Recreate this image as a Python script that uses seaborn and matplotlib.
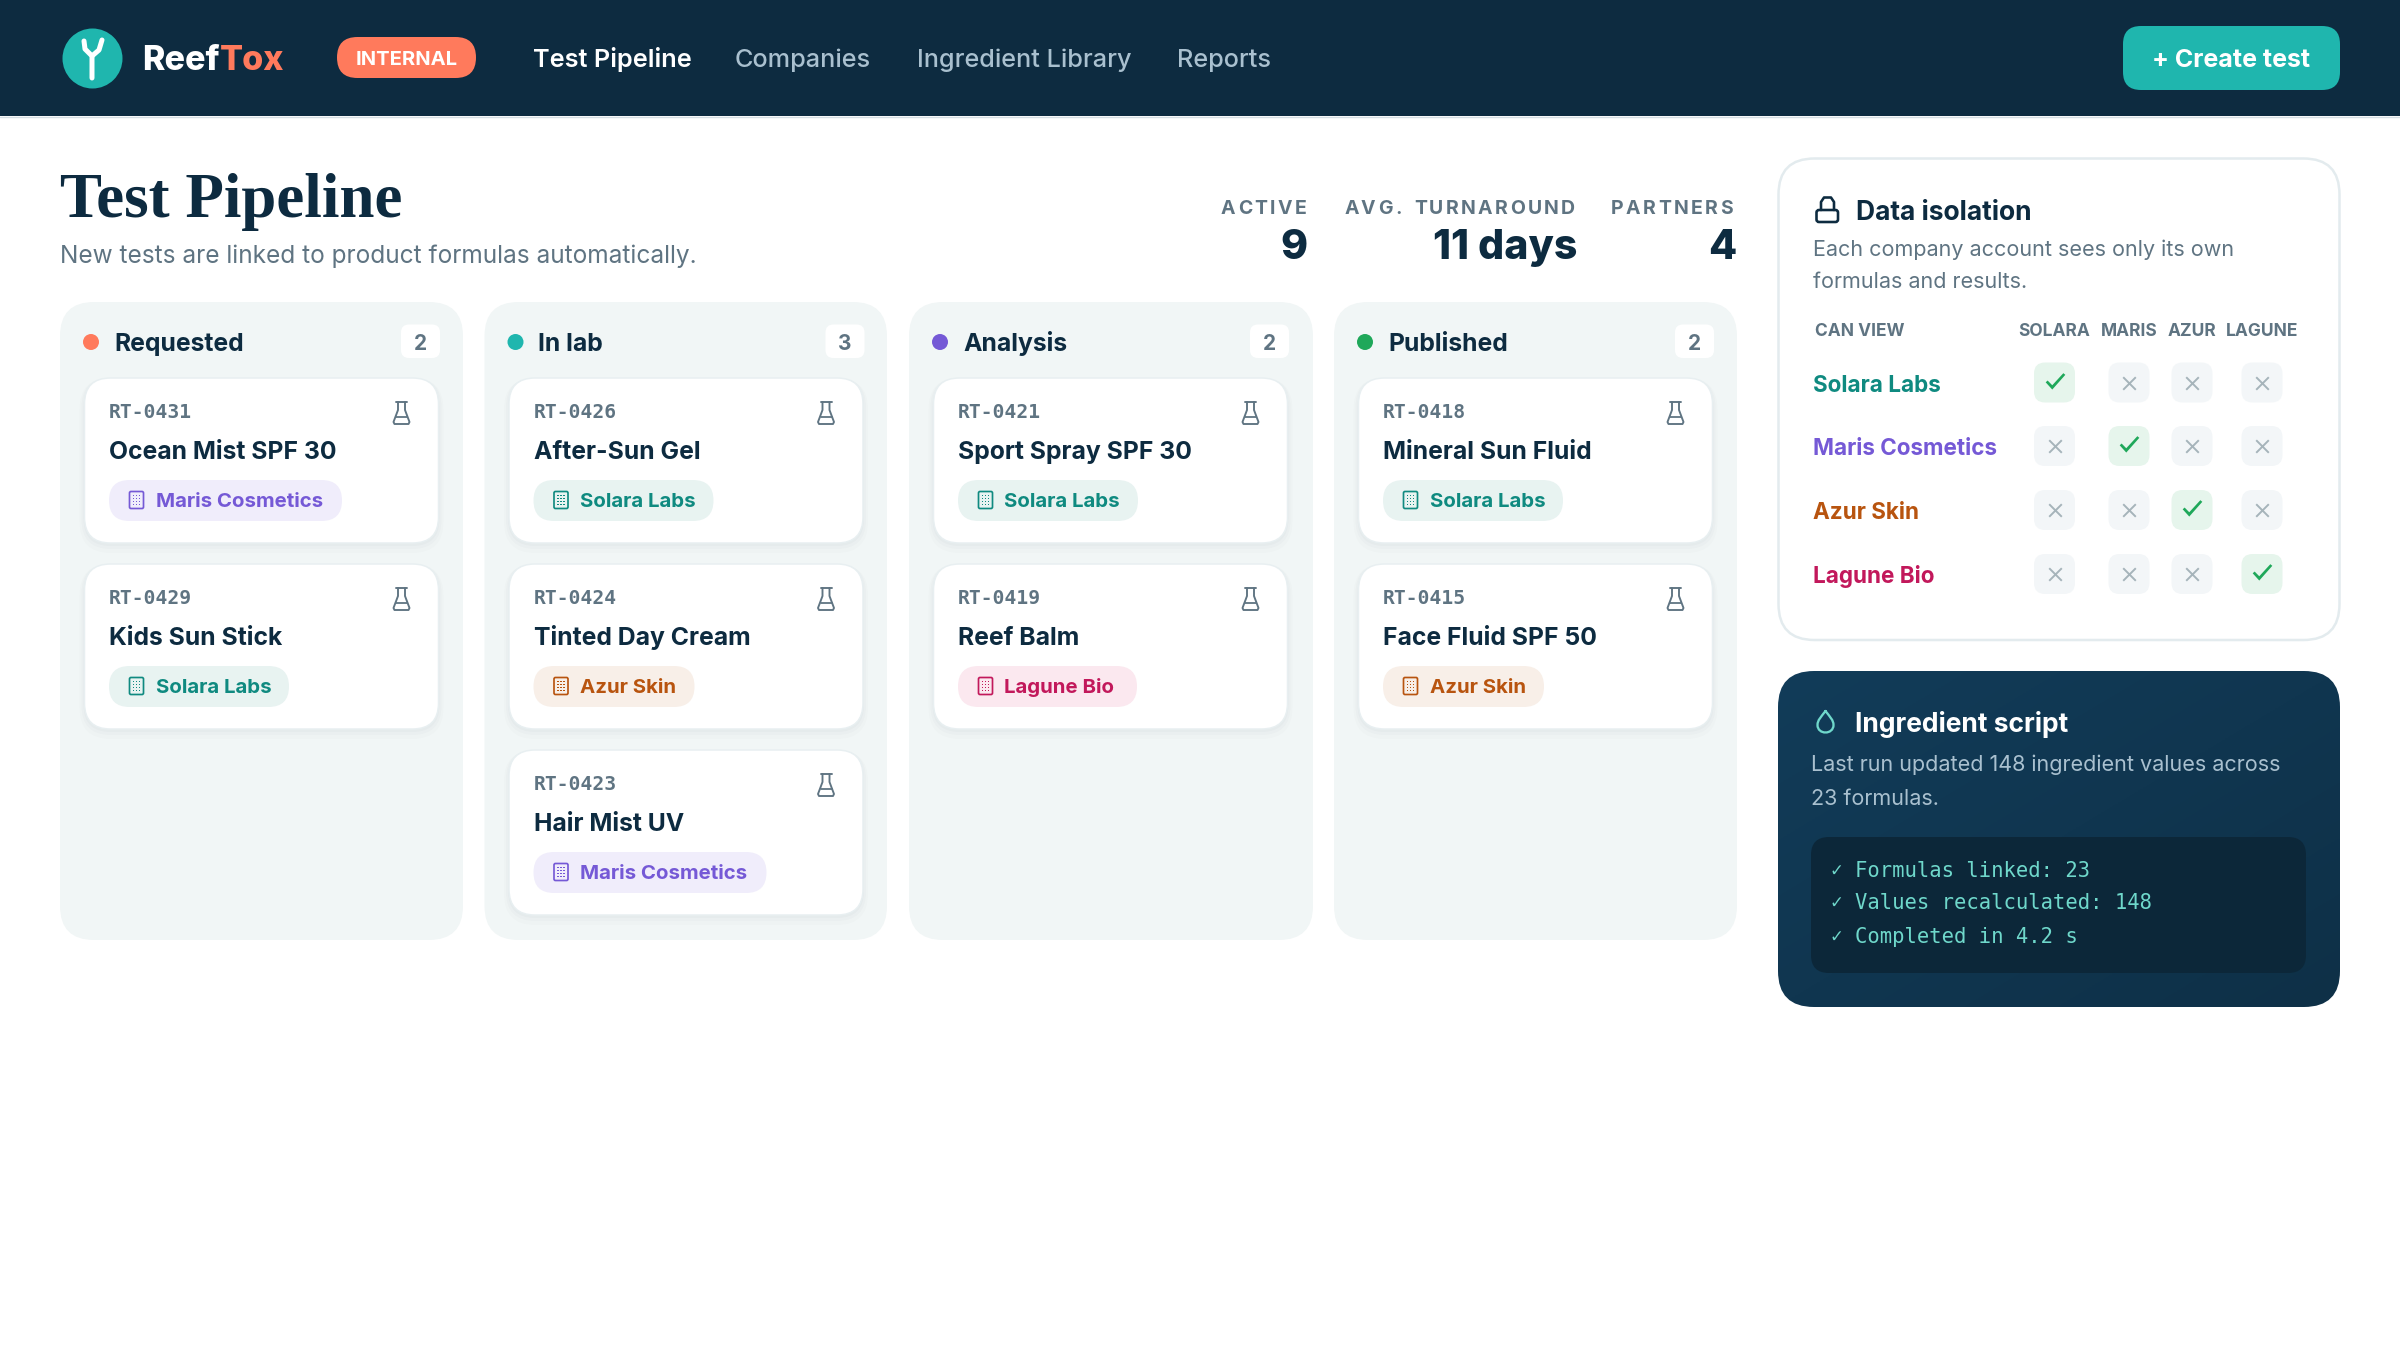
import numpy as np
import pandas as pd
import matplotlib
matplotlib.use("Agg")
import matplotlib.pyplot as plt
import seaborn as sns
from matplotlib.patches import FancyBboxPatch, PathPatch, Rectangle
from matplotlib.path import Path
from matplotlib.colors import LinearSegmentedColormap

# chart content
nav_items = ["Test Pipeline", "Companies", "Ingredient Library", "Reports"]
stat_labels = ["ACTIVE", "AVG. TURNAROUND", "PARTNERS"]
stat_values = ["9", "11 days", "4"]
stages = ["Requested", "In lab", "Analysis", "Published"]
stage_counts = [2, 3, 2, 2]
card_ids = [["RT-0431", "RT-0429"], ["RT-0426", "RT-0424", "RT-0423"],
            ["RT-0421", "RT-0419"], ["RT-0418", "RT-0415"]]
card_names = [["Ocean Mist SPF 30", "Kids Sun Stick"],
              ["After-Sun Gel", "Tinted Day Cream", "Hair Mist UV"],
              ["Sport Spray SPF 30", "Reef Balm"],
              ["Mineral Sun Fluid", "Face Fluid SPF 50"]]
card_companies = [["Maris Cosmetics", "Solara Labs"],
                  ["Solara Labs", "Azur Skin", "Maris Cosmetics"],
                  ["Solara Labs", "Lagune Bio"],
                  ["Solara Labs", "Azur Skin"]]
companies = ["Solara Labs", "Maris Cosmetics", "Azur Skin", "Lagune Bio"]
company_short = ["SOLARA", "MARIS", "AZUR", "LAGUNE"]
access = [[1, 0, 0, 0], [0, 1, 0, 0], [0, 0, 1, 0], [0, 0, 0, 1]]
script_lines = ["Formulas linked: 23", "Values recalculated: 148", "Completed in 4.2 s"]

# colours
NAVY = "#0d2b40"
GREY = "#5f7482"
NAV_GREY = "#a9c0cf"
TEAL = "#1fb6ae"
CORAL = "#ff7a5c"
MINT = "#6fd8cb"
GREEN = "#1fa85a"
stage_colors = [CORAL, TEAL, "#7559d6", GREEN]
company_fg = {"Solara Labs": "#0f8a80", "Maris Cosmetics": "#7559d6",
              "Azur Skin": "#b8540f", "Lagune Bio": "#c2185b"}
company_bg = {"Solara Labs": "#e8f3f1", "Maris Cosmetics": "#f0edfb",
              "Azur Skin": "#f8efe8", "Lagune Bio": "#fbe8ef"}

# layout, in pixels
col_x = [60, 484.5, 909, 1334]
col_w = [403, 402.5, 404, 403]
card_top = [378, 564, 750]
pill_w = {"Solara Labs": 180, "Maris Cosmetics": 233, "Azur Skin": 161, "Lagune Bio": 179}
nav_x = [533, 735, 917, 1177]
nav_w = ["semibold", "medium", "medium", "medium"]
stat_right = [1306.5, 1575, 1732.5]
value_right = [1308, 1577, 1736]
matrix_x = [2054.5, 2129, 2192, 2262]
matrix_y = [382.5, 446, 510, 574]

sns.set_theme(style="white")
plt.rcParams["font.family"] = ["Inter", "DejaVu Sans"]

fig = plt.figure(figsize=(24, 13.5), dpi=100)
ax = fig.add_axes([0, 0, 1, 1])
ax.set_xlim(0, 2400)
ax.set_ylim(1350, 0)
ax.axis("off")
rend = fig.canvas.get_renderer()


def box(x0, y0, x1, y1, r, fc, ec="none", lw=0, z=1, alpha=None):
    p = FancyBboxPatch((x0, y0), x1 - x0, y1 - y0, boxstyle=f"round,pad=0,rounding_size={r}",
                       fc=fc, ec=ec, lw=lw * 0.72, zorder=z, alpha=alpha)
    ax.add_patch(p)
    return p


def label(x, y, s, size, color=NAVY, weight="normal", ha="left", family=None, z=5):
    # y is the middle of the capitals
    base = y + 0.36 * size * 100 / 72
    kw = {"family": family} if family else {}
    return ax.text(x, base, s, fontsize=size, color=color, fontweight=weight, ha=ha,
                   va="baseline", zorder=z, **kw)


def spaced(x_right, y, s, size, color, weight, gap):
    # letter spaced, right aligned
    widths = []
    for ch in s:
        t = label(0, 0, ch if ch != " " else "n", size, color, weight)
        widths.append(t.get_window_extent(rend).width * (0.62 if ch == " " else 1))
        t.remove()
    x = x_right - sum(widths) - gap * (len(s) - 1)
    for ch, w in zip(s, widths):
        if ch != " ":
            label(x, y, ch, size, color, weight)
        x += w + gap


def stroke(verts, color, lw, codes=None, z=6, fc="none"):
    ax.add_patch(PathPatch(Path(verts, codes), fc=fc, ec=color, lw=lw * 0.72, zorder=z,
                           capstyle="round", joinstyle="round"))


def flask(cx, cy, color=GREY):
    stroke([(cx - 5.5, cy - 11), (cx + 5.5, cy - 11)], color, 1.9)
    stroke([(cx - 3.5, cy - 11), (cx - 3.5, cy - 3), (cx - 8, cy + 9), (cx - 7, cy + 11),
            (cx + 7, cy + 11), (cx + 8, cy + 9), (cx + 3.5, cy - 3), (cx + 3.5, cy - 11)], color, 1.9)
    stroke([(cx - 5.5, cy + 4), (cx + 5.5, cy + 4)], color, 1.8)


def building(cx, cy, color):
    box(cx - 7, cy - 8.5, cx + 7, cy + 8.5, 1.5, "none", color, 1.7, z=6)
    for dx in (-4, -1, 2):
        for dy in (-5.5, -2.5, 0.5, 3.5):
            ax.add_patch(Rectangle((cx + dx, cy + dy), 1.8, 1.6, fc=color, ec="none", zorder=6))


# header
ax.add_patch(Rectangle((0, 0), 2400, 116, fc=NAVY, ec="none", zorder=1))
ax.plot([0, 2400], [116.5, 116.5], color="#d5dee3", lw=1, zorder=1)
sns.scatterplot(x=[92], y=[58], s=(60 * 0.72) ** 2, color=TEAL, linewidth=0, ax=ax, zorder=3, legend=False)
stroke([(92, 78), (92, 56), (85, 49), (84, 41)], "white", 5)
stroke([(92, 56), (99, 50), (102, 40)], "white", 5)
reef = label(142, 58, "Reef", 24.5, "white", 800)
label(reef.get_window_extent(rend).x1, 58, "Tox", 24.5, CORAL, 800)
box(337, 37, 476, 78, 20.5, CORAL, z=3)
label(406.5, 58, "INTERNAL", 14.5, "white", "bold", ha="center")
for x, s, w, c in zip(nav_x, nav_items, nav_w, ["white"] + [NAV_GREY] * 3):
    label(x, 58, s, 18.2, c, w)
box(2123, 26, 2340, 90, 18, TEAL, z=3)
label(2231.5, 58, "+ Create test", 18, "white", "bold", ha="center")

# page heading
label(60, 194, "Test Pipeline", 45.4, NAVY, "bold", family="Liberation Serif")
label(60, 254, "New tests are linked to product formulas automatically.", 17.6, GREY)
for i, lab in enumerate(stat_labels):
    spaced(stat_right[i], 207, lab, 14, GREY, "bold", 2.4)
    label(value_right[i], 244, stat_values[i], 29.5, NAVY, 800, ha="right")

# kanban columns
for i, stage in enumerate(stages):
    x = col_x[i]
    box(x, 302, x + col_w[i], 940, 34, "#f1f6f6", z=1)
    label(x + 54, 342, stage, 17.8, NAVY, "bold")
    box(x + 341, 324.5, x + 380, 358, 8, "white", z=2)
    label(x + 360.5, 342, str(stage_counts[i]), 15, GREY, "bold", ha="center")
    for j, rt in enumerate(card_ids[i]):
        cx, cy = x + 24.5, card_top[j]
        company = card_companies[i][j]
        for grow, shift, al in [(5, 5, 0.012), (3, 3, 0.015), (1, 2, 0.02)]:
            box(cx - grow, cy + shift - grow, cx + 354 + grow, cy + 165 + shift + grow, 26 + grow, NAVY, z=2, alpha=al)
        box(cx, cy, cx + 354, cy + 165, 26, "white", "#e8eff1", 1.5, z=3)
        label(cx + 24.5, cy + 33, rt, 14.1, GREY, "bold", family="DejaVu Sans Mono")
        flask(cx + 317, cy + 35)
        label(cx + 24.5, cy + 72, card_names[i][j], 17.8, NAVY, "bold")
        box(cx + 24.5, cy + 102, cx + 24.5 + pill_w[company], cy + 143, 20.5, company_bg[company], z=4)
        building(cx + 52, cy + 122, company_fg[company])
        label(cx + 71, cy + 122, company, 14.7, company_fg[company], "bold")
sns.scatterplot(x=[c + 31 for c in col_x], y=[342] * 4, hue=stages, palette=stage_colors, s=(16 * 0.72) ** 2,
                linewidth=0, legend=False, ax=ax, zorder=6)

# data isolation panel
box(1778.5, 158.5, 2339.5, 640, 36, "white", "#e3ebee", 2.5, z=1)
stroke([(1821, 210), (1821, 202), (1824, 197.5), (1831, 197.5), (1834, 202), (1834, 210)], NAVY, 2.6)
box(1816.5, 210, 1838, 222, 2.5, "none", NAVY, 2.6, z=6)
label(1856, 210, "Data isolation", 19, NAVY, "bold")
label(1813, 248, "Each company account sees only its own", 15.5, GREY)
label(1813, 280, "formulas and results.", 15.5, GREY)
label(1815, 329.5, "CAN VIEW", 12.5, GREY, "bold")
for x, s in zip(matrix_x, company_short):
    label(x, 329.5, s, 12.5, GREY, "bold", ha="center")
for y, s in zip(matrix_y, companies):
    label(1813, y + 1, s, 16.2, company_fg[s], "bold")

rows = []
for r, row in enumerate(access):
    for c, v in enumerate(row):
        rows.append({"x": matrix_x[c], "y": matrix_y[r], "ok": v})
        box(matrix_x[c] - 20.5, matrix_y[r] - 20, matrix_x[c] + 20.5, matrix_y[r] + 20, 11,
            "#e6f5ec" if v else "#f3f6f8", z=2)
cells = pd.DataFrame(rows)
tick = Path([(-1, 0.02), (-0.33, -0.72), (1, 0.78), (0.8, 0.95), (-0.33, -0.28), (-0.8, 0.2), (-1, 0.02)], closed=True)
sns.scatterplot(x=cells[cells.ok == 1].x, y=cells[cells.ok == 1].y - 1, marker=tick, s=200, color=GREEN, linewidth=0,
                legend=False, ax=ax, zorder=4)
sns.scatterplot(data=cells[cells.ok == 0], x="x", y="y", marker="x", s=82, color="#a6b4ba", linewidth=1.4,
                legend=False, ax=ax, zorder=4)

# ingredient script panel
panel = box(1778, 671, 2340, 1007, 36, "none", z=1)
shade = LinearSegmentedColormap.from_list("panel", ["#123c59", "#0e3047"])
u, v = np.meshgrid(np.linspace(0, 1, 200), np.linspace(0, 1, 200))
im = ax.imshow((u + v) / 2, extent=(1778, 2340, 1007, 671), cmap=shade, aspect="auto", zorder=1)
im.set_clip_path(panel)
ax.set_xlim(0, 2400)
ax.set_ylim(1350, 0)
drop = [(1825.5, 711), (1821, 717), (1817.5, 720), (1817.5, 725), (1817.5, 735), (1833.5, 735), (1833.5, 725),
        (1833.5, 720), (1830, 717), (1825.5, 711)]
stroke(drop, MINT, 2.3, [Path.MOVETO] + [Path.CURVE4] * 9)
label(1855, 722, "Ingredient script", 19, "white", "bold")
label(1811, 763, "Last run updated 148 ingredient values across", 15.5, NAV_GREY)
label(1811, 797, "23 formulas.", 15.5, NAV_GREY)
box(1811, 837, 2306, 973, 18, "#0c2739", z=2)
for y, s in zip([870, 902, 936], script_lines):
    label(1836, y, "\u2713", 12, MINT, ha="center", family="DejaVu Sans")
    label(1855, y, s, 14.8, MINT, family="DejaVu Sans Mono")

fig.savefig("out.png", dpi=100)
